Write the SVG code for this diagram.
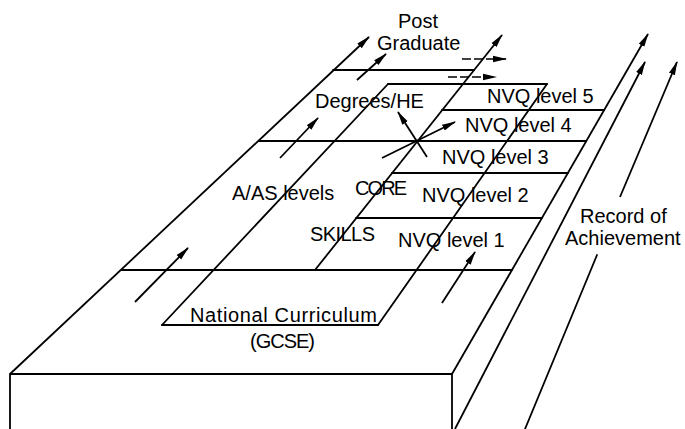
<svg xmlns="http://www.w3.org/2000/svg" width="685" height="429" viewBox="0 0 685 429">
<defs>
<marker id="ah" markerUnits="userSpaceOnUse" markerWidth="14" markerHeight="8" refX="13" refY="4" orient="auto">
<path d="M0,0.8 L14,4 L0,7.2 Z" fill="#000"/>
</marker>
<style>
.ln{stroke:#000;stroke-width:1.8;fill:none;stroke-linecap:round}
.ar{stroke:#000;stroke-width:1.8;fill:none;marker-end:url(#ah)}
.ds{stroke:#000;stroke-width:1.6;fill:none;stroke-dasharray:9 3;marker-end:url(#ah)}
.t{font-family:"Liberation Sans",Arial,sans-serif;font-size:20px;fill:#000}
</style>
</defs>
<rect width="685" height="429" fill="#fff"/>
<g id="slab">
<path class="ln" d="M10,374 L452,374 M10,374 L10,429 M452,374 L452,429"/>
<path class="ln" d="M162,325 L388,84 M378,325 L547,84"/>
<path class="ln" d="M333,70 L474,70 M388,84 L547,84 M442,110 L604,110 M259,141 L586,141 M392,173 L568,173 M356,218 L542,218 M122,270 L512,270 M162,325 L378,325"/>
<path class="ln" d="M525,429 L597,255"/>
</g>
<g id="connectors">
<path class="ar" d="M10,374 L369,37"/>
<path class="ar" d="M452,374 L648,34"/>
<path class="ar" d="M455,429 L645,62"/>
<path class="ar" d="M620,197 L677,62"/>
<path class="ar" d="M315,270 L502,35"/>
<path class="ar" d="M357,80 L386,54"/>
<path class="ar" d="M280,158 L318,118"/>
<path class="ar" d="M135,302 L188,248"/>
<path class="ar" d="M442,303 L475,252"/>
<path class="ar" d="M427,157 L398,112"/>
<path class="ar" d="M382,158 L455,122"/>
<path class="ds" d="M462,59 L506,59"/>
<path class="ds" d="M448,77 L496,77"/>
</g>
<g id="post-graduate"><text class="t" x="398" y="28">Post</text><text class="t" x="377" y="50">Graduate</text></g>
<g id="degrees-he"><text class="t" x="315" y="108">Degrees/HE</text></g>
<g id="nvq5"><text class="t" x="487" y="103">NVQ level 5</text></g>
<g id="nvq4"><text class="t" x="465" y="132">NVQ level 4</text></g>
<g id="nvq3"><text class="t" x="442" y="164">NVQ level 3</text></g>
<g id="nvq2"><text class="t" x="422" y="202">NVQ level 2</text></g>
<g id="nvq1"><text class="t" x="398" y="247">NVQ level 1</text></g>
<g id="a-as"><text class="t" x="232" y="200">A/AS levels</text></g>
<g id="core"><text class="t" x="355" y="195" textLength="52">CORE</text></g>
<g id="skills"><text class="t" x="310" y="241" textLength="65">SKILLS</text></g>
<g id="national-curriculum"><text class="t" x="190" y="322" textLength="187">National Curriculum</text><text class="t" x="250" y="348" textLength="65">(GCSE)</text></g>
<g id="record"><text class="t" x="580" y="223">Record of</text><text class="t" x="565" y="245">Achievement</text></g>
</svg>
